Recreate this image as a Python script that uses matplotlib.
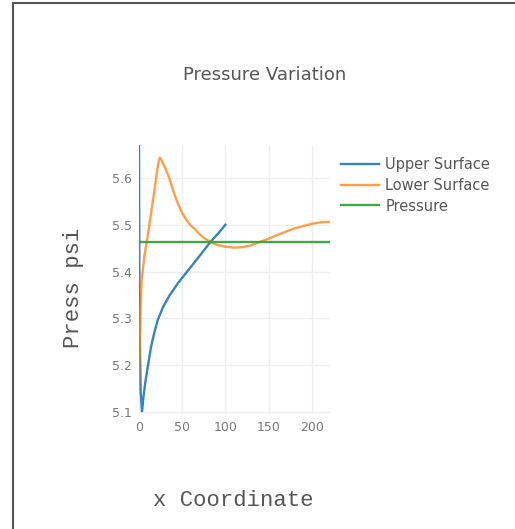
import numpy as np
import matplotlib
matplotlib.use("Agg")
import matplotlib.pyplot as plt
from matplotlib.lines import Line2D

# data
upper_x = [0, 0.5, 2, 3.5, 5, 7, 10, 14, 18, 22, 28, 35, 45, 57, 70, 83, 92, 100]
upper_p = [5.67, 5.30, 5.14, 5.102, 5.13, 5.16, 5.195, 5.24, 5.272, 5.298, 5.325, 5.348,
           5.375, 5.403, 5.433, 5.464, 5.482, 5.50]

lower_x = [0, 0.5, 1, 2, 3, 6, 10, 14, 18, 21, 23, 24, 26, 30, 35, 40, 45, 50, 55, 60,
           65, 70, 75, 83, 90, 100, 110, 120, 130, 141, 150, 160, 170, 180, 190, 200,
           210, 221]
lower_p = [5.15, 5.20, 5.25, 5.33, 5.38, 5.43, 5.475, 5.525, 5.575, 5.615, 5.637, 5.643,
           5.638, 5.622, 5.60, 5.57, 5.545, 5.525, 5.51, 5.498, 5.49, 5.48, 5.472, 5.463,
           5.457, 5.453, 5.451, 5.452, 5.456, 5.464, 5.47, 5.478, 5.485, 5.492, 5.497,
           5.502, 5.505, 5.506]

press_x = [0, 221]
press_p = [5.464, 5.464]

x_ticks = [0, 50, 100, 150, 200]
y_ticks = [5.1, 5.2, 5.3, 5.4, 5.5, 5.6]

W, H = 515, 529
fig = plt.figure(figsize=(W / 100, H / 100), dpi=100)
ax = fig.add_axes([139 / W, 1 - 414 / H, (330 - 139) / W, (414 - 145) / H])

ax.plot(upper_x, upper_p, color="#1f77b4", lw=1.7, label="Upper Surface", alpha=0.9)
ax.plot(lower_x, lower_p, color="#ff7f0e", lw=1.7, label="Lower Surface", alpha=0.75)
ax.plot(press_x, press_p, color="#2ca02c", lw=1.7, label="Pressure", alpha=0.9)

ax.set_xlim(0, 221)
ax.set_ylim(5.096, 5.67)
ax.set_xticks(x_ticks)
ax.set_yticks(y_ticks)
ax.grid(True, color="#eeeeee", lw=1)
ax.set_axisbelow(True)
for s in ax.spines.values():
    s.set_visible(False)
ax.tick_params(length=0, labelsize=9, labelcolor="#777777", pad=5)

fig.text(265 / W, 1 - 75 / H, "Pressure Variation", ha="center", va="center",
         fontsize=13, color="#555555")
fig.text(233 / W, 1 - 500 / H, "x Coordinate", ha="center", va="center",
         fontsize=16, color="#555555", family="Liberation Mono")
fig.text(73 / W, 1 - 288 / H, "Press psi", ha="center", va="center", rotation=90,
         fontsize=16, color="#555555", family="Liberation Mono")

ax.legend(loc="upper left", bbox_to_anchor=(335 / W, 1 - 151 / H),
          bbox_transform=fig.transFigure, frameon=False, fontsize=10.5,
          labelcolor="#555555", handlelength=2.6, handletextpad=0.45, labelspacing=0.4,
          borderaxespad=0)

# screenshot frame
fig.add_artist(Line2D([13 / W, 13 / W], [0, 1 - 3 / H], color="#555555", lw=1.5))
fig.add_artist(Line2D([13 / W, 1], [1 - 3 / H, 1 - 3 / H], color="#555555", lw=1.5))

fig.savefig("out.png", dpi=100)
